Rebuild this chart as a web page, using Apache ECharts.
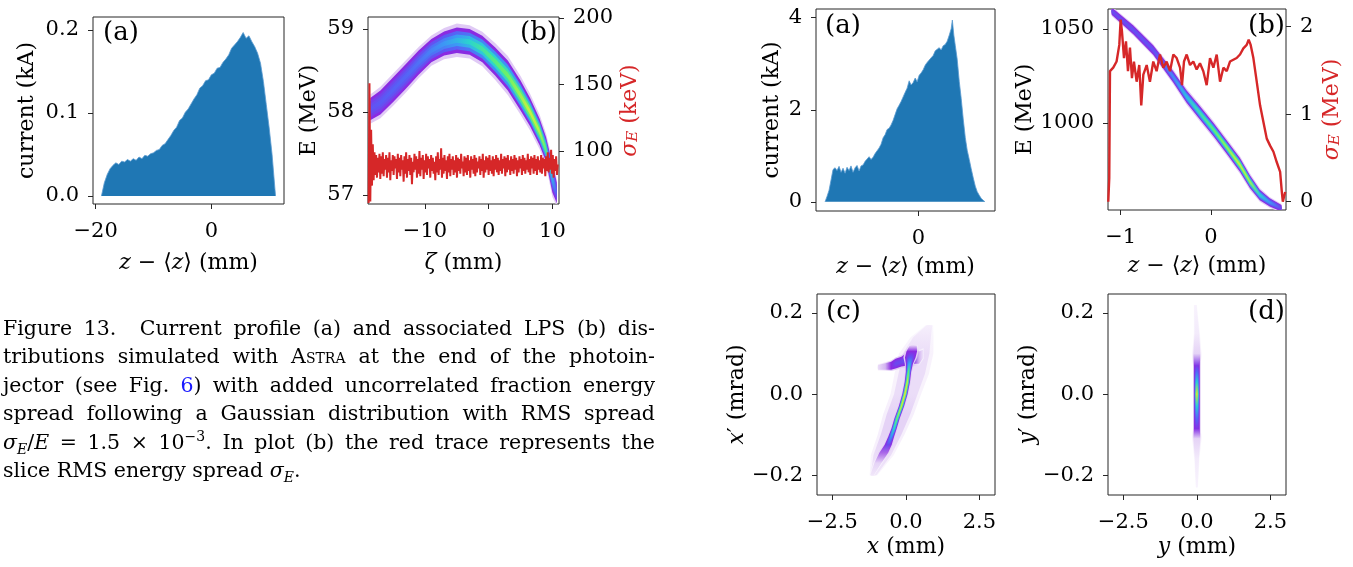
<!DOCTYPE html>
<html><head><meta charset="utf-8">
<script src="https://cdn.jsdelivr.net/npm/echarts@6/dist/echarts.min.js"></script>
<style>
html,body{margin:0;padding:0;background:#fff;}
#chart{position:absolute;left:0;top:0;width:1353px;height:567px;}
#caption{position:absolute;left:3px;top:314px;width:652px;font-family:'DejaVu Serif',serif;font-size:20.5px;line-height:28.4px;color:#000;}
#caption div{text-align:justify;text-align-last:justify;}
#caption div.last{text-align-last:left;}
.sc{font-variant:small-caps;}
.blue{color:#1a1aff;}
sub{font-size:14px;line-height:0;}
sup{font-size:14px;line-height:0;}
</style>
</head><body>
<div id="chart"></div>
<div id="caption">
<div>Figure 13.&nbsp; Current profile (a) and associated LPS (b) dis-</div>
<div>tributions simulated with <span class="sc">Astra</span> at the end of the photoin-</div>
<div>jector (see Fig. <span class="blue">6</span>) with added uncorrelated fraction energy</div>
<div>spread following a Gaussian distribution with RMS spread</div>
<div><i>σ</i><sub><i>E</i></sub>/<i>E</i> = 1.5 × 10<sup>−3</sup>. In plot (b) the red trace represents the</div>
<div class="last">slice RMS energy spread <i>σ</i><sub><i>E</i></sub>.</div>
</div>
<script>
// ---------------- DATA ----------------
// Left (a): current profile, z - <z> (mm) vs current (kA)
const zA1 = [-19,-18.5,-18,-17.5,-17,-16.5,-16,-15.5,-15,-14.5,-14,-13.5,-13,-12.5,-12,-11.5,-11,-10.5,-10,-9.5,-9,-8.5,-8,-7.5,-7,-6.5,-6,-5.5,-5,-4.5,-4,-3.5,-3,-2.5,-2,-1.5,-1,-0.5,0,0.5,1,1.5,2,2.5,3,3.5,4,4.5,5,5.5,6,6.5,7,7.5,8,8.5,9,9.5,10,10.5,11,11.1];
const curA1 = [0,0.016,0.026,0.033,0.037,0.040,0.038,0.042,0.041,0.044,0.042,0.045,0.043,0.047,0.045,0.049,0.048,0.051,0.052,0.055,0.056,0.061,0.063,0.068,0.073,0.079,0.083,0.091,0.094,0.101,0.105,0.111,0.117,0.122,0.130,0.133,0.139,0.140,0.146,0.148,0.154,0.155,0.161,0.165,0.170,0.178,0.182,0.186,0.191,0.197,0.190,0.193,0.186,0.180,0.172,0.160,0.138,0.110,0.082,0.050,0.008,0];

// Left (b): LPS band (slices along zeta): centre energy, half thickness (MeV), relative density
const zetaB = [-18.6,-17,-15,-13,-11,-9,-7,-5,-3,-1,1,3,5,6.5,8,9,10,10.7];
const eCenB = [58.035,58.115,58.27,58.43,58.595,58.74,58.825,58.865,58.845,58.76,58.61,58.44,58.2,58.0,57.76,57.55,57.205,57.025];
const eHalfB = [0.135,0.145,0.15,0.15,0.145,0.14,0.145,0.155,0.155,0.16,0.17,0.18,0.18,0.17,0.16,0.15,0.175,0.125];
const densB = [0.28,0.30,0.32,0.33,0.36,0.40,0.45,0.52,0.60,0.66,0.70,0.74,0.80,0.85,0.82,0.72,0.50,0.30];
// Left (b): slice energy spread (keV), binned from zeta = -18.85 to 10.85 mm
const sigZetaFirst = -18.85, sigZetaLast = 10.85;
const sigmaKeV = [61,151,62,116,74,105,78,99,82,97,80,95,84,98,79,96,83,99,81,94,
 86,97,80,95,84,99,78,93,85,97,82,96,87,94,79,98,84,95,81,97,
 86,93,77,96,83,99,80,94,85,97,82,95,75,92,84,98,86,96,80,94,
 83,100,81,95,86,97,79,93,84,98,82,96,87,94,80,97,85,95,83,92,
 78,96,84,99,82,94,86,102,80,95,83,97,85,93,79,96,84,98,81,94,
 86,96,82,93,84,97,80,95,85,94,83,98,87,92,81,96,84,95,82,97,
 85,93,80,96,86,94,83,97,81,95,84,92,87,96,82,94,85,98,80,93,
 84,96,86,95,82,97,85,93,83,96,81,94,86,97,84,95,82,93,85,98,
 83,94,87,96,81,95,84,97,86,93,82,96,85,94,83,97,86,95,81,93,
 84,96,87,94,82,97,85,95,83,93,86,98,84,94,82,96,87,95,83,97,
 85,94,82,96,86,93,84,97,83,95,87,94,81,96,85,99,84,95,86,101,
 83,97,80,94,85,96,82,90];

// Right (a): current profile
const zA2 = [-0.866,-0.847,-0.829,-0.810,-0.792,-0.773,-0.755,-0.736,-0.717,-0.699,-0.680,-0.662,-0.643,-0.625,-0.606,-0.587,-0.569,-0.550,-0.532,-0.513,-0.494,-0.476,-0.457,-0.439,-0.420,-0.401,-0.383,-0.364,-0.346,-0.327,-0.308,-0.290,-0.271,-0.253,-0.234,-0.215,-0.197,-0.178,-0.160,-0.141,-0.122,-0.104,-0.085,-0.067,-0.048,-0.029,-0.011,0.008,0.026,0.045,0.064,0.082,0.101,0.119,0.138,0.157,0.175,0.194,0.212,0.231,0.250,0.268,0.287,0.305,0.316,0.330,0.343,0.361,0.380,0.398,0.417,0.436,0.454,0.473,0.491,0.510,0.529,0.547,0.566,0.585,0.603,0.619];
const curA2 = [0,0.12,0.25,0.48,0.70,0.74,0.68,0.77,0.64,0.73,0.62,0.75,0.68,0.78,0.64,0.74,0.79,0.67,0.78,0.80,0.88,0.92,0.98,0.92,0.97,1.05,1.08,1.17,1.25,1.39,1.46,1.57,1.60,1.67,1.77,1.90,2.02,2.10,2.18,2.28,2.38,2.47,2.63,2.54,2.59,2.69,2.61,2.75,2.80,2.87,2.97,3.03,3.08,3.13,3.18,3.28,3.30,3.35,3.30,3.39,3.42,3.49,3.62,3.76,3.95,3.62,3.40,3.10,2.62,2.25,1.80,1.40,1.12,0.92,0.72,0.52,0.34,0.22,0.14,0.07,0.03,0];

// Right (b): LPS band
const zB2 = [-1.10,-0.86,-0.64,-0.42,-0.27,-0.12,0.03,0.17,0.32,0.43,0.54,0.65,0.78];
const eCenB2 = [1059.5,1049.5,1038.8,1024.6,1014.0,1005.2,996.3,987.4,977.7,968.8,961.7,957.8,954.6];
const eHalfB2 = [2.0,2.3,2.5,3.0,3.3,3.5,3.5,3.5,3.6,3.4,2.8,2.2,1.8];
const densB2 = [0.26,0.28,0.28,0.42,0.55,0.65,0.72,0.78,0.85,0.80,0.60,0.45,0.25];
// Right (b): slice energy spread (MeV)
const zSig2 = [-1.137,-1.126,-1.118,-1.111,-1.082,-1.045,-1.015,-1.0,-0.986,-0.963,-0.941,-0.919,-0.897,-0.875,-0.853,-0.823,-0.794,-0.772,-0.749,-0.712,-0.676,-0.639,-0.602,-0.565,-0.528,-0.491,-0.454,-0.417,-0.380,-0.343,-0.321,-0.299,-0.269,-0.232,-0.196,-0.159,-0.122,-0.085,-0.048,-0.011,0.026,0.063,0.1,0.137,0.174,0.21,0.247,0.284,0.321,0.358,0.395,0.417,0.439,0.469,0.506,0.543,0.58,0.617,0.654,0.691,0.728,0.765,0.784,0.795,0.821];
const sigMeV2 = [0.0,0.27,1.49,1.51,1.53,1.60,1.79,2.08,1.95,1.64,1.83,1.49,1.76,1.41,1.60,1.37,1.56,1.10,1.45,1.56,1.37,1.60,1.49,1.68,1.53,1.60,1.49,1.68,1.64,1.53,1.33,1.60,1.68,1.56,1.60,1.51,1.58,1.49,1.33,1.64,1.53,1.68,1.37,1.53,1.49,1.60,1.62,1.64,1.68,1.75,1.79,1.85,1.79,1.64,1.37,1.10,0.91,0.72,0.64,0.57,0.45,0.34,0.11,0.0,0.11];

// Right (c): x-x' phase space, slices along x' (mrad): centre x (mm), half width (mm), density
const xpCore = [-0.2,-0.17,-0.145,-0.125,-0.105,-0.085,-0.06,-0.03,0.0,0.03,0.055,0.075,0.09,0.105,0.12];
const xCore = [-1.15,-0.95,-0.75,-0.6,-0.5,-0.4,-0.3,-0.15,-0.03,0.05,0.09,0.12,0.15,0.2,0.25];
const xHalfCore = [0.06,0.12,0.15,0.12,0.1,0.09,0.09,0.09,0.09,0.09,0.09,0.12,0.18,0.18,0.12];
const densCore = [0.03,0.05,0.12,0.25,0.45,0.62,0.75,0.85,0.90,0.85,0.72,0.50,0.30,0.15,0.05];
const xpHalo = [-0.2,-0.15,-0.1,-0.05,0.0,0.05,0.1,0.14,0.17];
const xHalo = [-1.1,-0.8,-0.5,-0.25,0.0,0.2,0.35,0.55,0.8];
const xHalfHalo = [0.1,0.3,0.35,0.4,0.4,0.45,0.45,0.3,0.1];
const densHalo = [0.03,0.04,0.05,0.05,0.04,0.04,0.04,0.03,0.02];
// hook: slices along x (mm): centre x' (mrad), half thickness (mrad), density
const xHook = [-0.95,-0.7,-0.5,-0.35,-0.15,0.0,0.05,0.25,0.45,0.6];
const xpHook = [0.066,0.068,0.07,0.075,0.08,0.085,0.09,0.095,0.09,0.1];
const xpHalfHook = [0.006,0.008,0.01,0.012,0.012,0.015,0.02,0.02,0.015,0.01];
const densHook = [0.04,0.08,0.15,0.25,0.25,0.25,0.2,0.2,0.08,0.03];

// Right (d): y-y' phase space, slices along y' (mrad)
const ypCore = [-0.23,-0.16,-0.11,-0.085,-0.06,-0.03,0.0,0.03,0.055,0.07,0.1,0.15,0.22];
const yCore = [0,0,0,0,0,0,0,0,0,0,0,0,-0.05];
const yHalfCore = [0.03,0.07,0.12,0.1,0.1,0.1,0.1,0.1,0.1,0.1,0.12,0.08,0.04];
const densY = [0.015,0.025,0.05,0.18,0.35,0.6,0.9,0.6,0.35,0.2,0.05,0.025,0.015];

// ticks
const ticksLAx = [-20, 0], ticksLAy = [0, 0.1, 0.2];
const ticksLBx = [-10, 0, 10], ticksLBy = [57, 58, 59], ticksLBy2 = [100, 150, 200];
const ticksRAx = [0], ticksRAy = [0, 2, 4];
const ticksRBx = [-1, 0], ticksRBy = [1000, 1050], ticksRBy2 = [0, 1, 2];
const ticksTx = [-2.5, 0, 2.5], ticksTy = [-0.2, 0, 0.2];

// ---------------- RENDERING ----------------
const FONT = "'DejaVu Serif', serif";
const RED = '#d62728', BLUE = '#1f77b4', SPINE = '#262626';

const CMAP = [
 [0.00,'#ffffff'],[0.03,'#f1e7fa'],[0.08,'#d4b6f1'],[0.15,'#8a2be2'],[0.30,'#5a5af5'],
 [0.45,'#3a9cf5'],[0.58,'#2ad4d0'],[0.70,'#60f070'],[0.82,'#c8f040'],[0.92,'#ffd030'],[1.0,'#ff7a20']];
function hex(c){return [parseInt(c.slice(1,3),16),parseInt(c.slice(3,5),16),parseInt(c.slice(5,7),16)];}
function cmap(v){
  v=Math.max(0,Math.min(1,v));
  for(let i=1;i<CMAP.length;i++){
    if(v<=CMAP[i][0]){
      const a=CMAP[i-1],b=CMAP[i],f=(v-a[0])/(b[0]-a[0]);
      const ca=hex(a[1]),cb=hex(b[1]);
      return 'rgb('+ca.map((x,k)=>Math.round(x+(cb[k]-x)*f)).join(',')+')';
    }
  }
  return CMAP[CMAP.length-1][1];
}
const LAYERS=[1.3,1.0,0.72,0.45,0.2];
function level(p,d){
  if(d>1) return Math.min(p,0.15)*0.4;
  return Math.min(p,0.15)+Math.max(0,p-0.15)*(1-d*d);
}
function bandSeries(xi,yi,t,c,hw,pk,orient){
  const data=t.map((tv,i)=>orient==='v'?[tv,c[i]]:[c[i],tv]);
  return {
    type:'custom', xAxisIndex:xi, yAxisIndex:yi, clip:true, silent:true, z:2,
    data:data,
    renderItem:function(params,api){
      if(params.dataIndex!==0) return null;
      const n=t.length, children=[];
      const P=(tv,cv)=>orient==='v'?api.coord([tv,cv]):api.coord([cv,tv]);
      const p0=P(t[0],c[0]), p1=P(t[n-1],c[n-1]);
      LAYERS.forEach(d=>{
        const up=[],lo=[],stops=[];
        for(let i=0;i<n;i++){
          up.push(P(t[i],c[i]+d*hw[i]));
          lo.push(P(t[i],c[i]-d*hw[i]));
          const pi=P(t[i],c[i]);
          let off=orient==='v'?(pi[0]-p0[0])/(p1[0]-p0[0]):(pi[1]-p0[1])/(p1[1]-p0[1]);
          stops.push({offset:Math.max(0,Math.min(1,off)),color:cmap(level(pk[i],d))});
        }
        const fill=orient==='v'
          ?{type:'linear',x:p0[0],y:0,x2:p1[0],y2:0,global:true,colorStops:stops}
          :{type:'linear',x:0,y:p0[1],x2:0,y2:p1[1],global:true,colorStops:stops};
        children.push({type:'polygon',shape:{points:up.concat(lo.reverse())},style:{fill:fill}});
      });
      return {type:'group',children:children};
    }
  };
}
const fmtN=d=>v=>(v<0?'\u2212':'')+Math.abs(v).toFixed(d);
const RICH={
  i:{fontFamily:FONT,fontSize:22,fontStyle:'italic'},
  s:{fontFamily:FONT,fontSize:15,fontStyle:'italic',verticalAlign:'bottom'}
};
function axis(o){
  const a={
    type:'value', gridIndex:o.g, min:o.min, max:o.max, position:o.pos,
    axisLine:{show:false,onZero:false},
    axisTick:{show:true,inside:false,length:5,lineStyle:{color:SPINE,width:1},customValues:o.ticks},
    axisLabel:{customValues:o.ticks,formatter:o.fmt,fontFamily:FONT,fontSize:21,color:'#000',margin:o.margin},
    splitLine:{show:false},
    name:o.name, nameLocation:'middle', nameGap:o.gap,
    nameTextStyle:{fontFamily:FONT,fontSize:22,color:o.ncolor||'#000',rich:RICH}
  };
  if(o.rot!==undefined) a.nameRotate=o.rot;
  return a;
}
const grids=[
  {left:93,top:17,width:191,height:187},
  {left:368,top:17,width:191,height:187},
  {left:816,top:9,width:179,height:202},
  {left:1108,top:9,width:178,height:201},
  {left:817,top:294,width:178,height:201},
  {left:1108,top:294,width:178,height:201}
].map(g=>Object.assign({show:true,borderColor:SPINE,borderWidth:1,backgroundColor:'#fff',containLabel:false},g));

const zName='{i|z} − ⟨{i|z}⟩ (mm)';
const xAxes=[
  axis({g:0,min:-20.46,max:12.56,ticks:ticksLAx,fmt:fmtN(0),margin:17,name:zName,gap:48}),
  axis({g:1,min:-18.95,max:11.04,ticks:ticksLBx,fmt:fmtN(0),margin:17,name:'{i|ζ} (mm)',gap:48}),
  axis({g:2,min:-0.95,max:0.712,ticks:ticksRAx,fmt:fmtN(0),margin:17,name:zName,gap:45}),
  axis({g:3,min:-1.14,max:0.83,ticks:ticksRBx,fmt:fmtN(0),margin:17,name:zName,gap:45}),
  axis({g:4,min:-3.02,max:3.03,ticks:ticksTx,fmt:fmtN(1),margin:17,name:'{i|x} (mm)',gap:41}),
  axis({g:5,min:-3.02,max:3.03,ticks:ticksTx,fmt:fmtN(1),margin:17,name:'{i|y} (mm)',gap:41})
];
const yAxes=[
  axis({g:0,min:-0.0096,max:0.2157,ticks:ticksLAy,fmt:fmtN(1),margin:14,name:'current (kA)',gap:55,rot:90}),
  axis({g:1,min:56.892,max:59.145,ticks:ticksLBy,fmt:fmtN(0),margin:14,name:'E (MeV)',gap:48,rot:90}),
  axis({g:1,min:60.2,max:200.7,pos:'right',ticks:ticksLBy2,fmt:fmtN(0),margin:14,name:'{i|σ}{s|E} (keV)',gap:60,rot:90,ncolor:RED}),
  axis({g:2,min:-0.2,max:4.19,ticks:ticksRAy,fmt:fmtN(0),margin:14,name:'current (kA)',gap:33,rot:90}),
  axis({g:3,min:953.7,max:1060.6,ticks:ticksRBy,fmt:fmtN(0),margin:14,name:'E (MeV)',gap:66,rot:90}),
  axis({g:3,min:-0.095,max:2.2,pos:'right',ticks:ticksRBy2,fmt:fmtN(0),margin:14,name:'{i|σ}{s|E} (MeV)',gap:35,rot:90,ncolor:RED}),
  axis({g:4,min:-0.249,max:0.247,ticks:ticksTy,fmt:fmtN(1),margin:14,name:'{i|x}′ (mrad)',gap:68,rot:90}),
  axis({g:5,min:-0.249,max:0.247,ticks:ticksTy,fmt:fmtN(1),margin:14,name:'{i|y}′ (mrad)',gap:68,rot:90})
];

const series=[
  {type:'line',xAxisIndex:0,yAxisIndex:0,data:zA1.map((z,i)=>[z,curA1[i]]),symbol:'none',
   lineStyle:{color:'#5b9bd0',width:0.8},areaStyle:{color:BLUE,opacity:1},z:2},
  bandSeries(1,1,zetaB,eCenB,eHalfB,densB,'v'),
  {type:'line',xAxisIndex:1,yAxisIndex:2,symbol:'none',clip:true,z:3,
   data:sigmaKeV.map((s,i)=>[sigZetaFirst+(sigZetaLast-sigZetaFirst)*i/(sigmaKeV.length-1),s]),
   lineStyle:{color:RED,width:2}},
  {type:'line',xAxisIndex:2,yAxisIndex:3,data:zA2.map((z,i)=>[z,curA2[i]]),symbol:'none',
   lineStyle:{color:'#5b9bd0',width:0.8},areaStyle:{color:BLUE,opacity:1},z:2},
  bandSeries(3,4,zB2,eCenB2,eHalfB2,densB2,'v'),
  {type:'line',xAxisIndex:3,yAxisIndex:5,symbol:'none',clip:true,z:3,
   data:zSig2.map((z,i)=>[z,sigMeV2[i]]),lineStyle:{color:RED,width:2.4}},
  bandSeries(4,6,xpHalo,xHalo,xHalfHalo,densHalo,'h'),
  bandSeries(4,6,xHook,xpHook,xpHalfHook,densHook,'v'),
  bandSeries(4,6,xpCore,xCore,xHalfCore,densCore,'h'),
  bandSeries(5,7,ypCore,yCore,yHalfCore,densY,'h')
];

const panelLabels=[
  {text:'(a)',left:103,top:20},
  {text:'(b)',left:520,top:20},
  {text:'(a)',left:825,top:13},
  {text:'(b)',left:1248,top:13},
  {text:'(c)',left:826,top:299},
  {text:'(d)',left:1248,top:299}
].map(p=>({type:'text',left:p.left,top:p.top,z:100,style:{text:p.text,font:'26px '+FONT,fill:'#000'}}));

const chart=echarts.init(document.getElementById('chart'),null,{renderer:'canvas'});
chart.setOption({
  animation:false,
  backgroundColor:'#fff',
  grid:grids, xAxis:xAxes, yAxis:yAxes, series:series,
  graphic:panelLabels
});
</script>
</body></html>
